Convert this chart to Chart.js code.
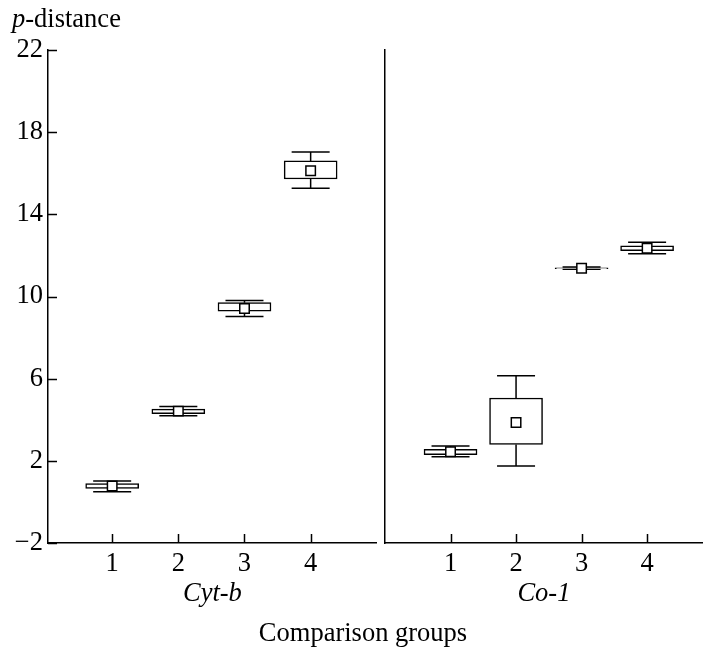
<!DOCTYPE html>
<html>
<head>
<meta charset="utf-8">
<script src="https://cdn.jsdelivr.net/npm/chart.js@4"></script>
<style>
    body { margin: 0; background: #fff; width: 703px; height: 650px; overflow: hidden; position: relative; font-family: "Liberation Serif", serif; }
    .panel { position: absolute; top: 0; height: 650px; }
    #left { left: 0; width: 385px; }
    #right { left: 375px; width: 336px; }
    .lbl { position: absolute; font-size: 26.5px; color: #000; white-space: nowrap; }
</style>
</head>
<body>
<div class="panel" id="left"><canvas id="cytbChart"></canvas></div>
<div class="panel" id="right"><canvas id="co1Chart"></canvas></div>
<div class="lbl" style="left:12px; top:3px;"><i>p</i>-distance</div>
<div class="lbl" style="left:0; width:726px; text-align:center; top:617px;">Comparison groups</div>
<script>
// comparison groups
var groups = [1, 2, 3, 4];
var yTicks = [22, 18, 14, 10, 6, 2, -2];

// Cyt-b
var cytbBoxLow = [0.66, 4.30, 9.28, 15.72];
var cytbBoxHigh = [0.89, 4.52, 9.70, 16.60];
var cytbWhiskLow = [0.50, 4.20, 9.03, 15.27];
var cytbWhiskHigh = [1.02, 4.65, 9.81, 17.03];
var cytbMean = [0.77, 4.42, 9.42, 16.12];

// Co-1
var co1BoxLow = [2.30, 2.80, 11.35, 12.23];
var co1BoxHigh = [2.56, 5.06, 11.40, 12.47];
var co1WhiskLow = [2.20, 1.75, 11.33, 12.08];
var co1WhiskHigh = [2.72, 6.14, 11.44, 12.64];
var co1Mean = [2.44, 3.87, 11.37, 12.35];

Chart.defaults.font.family = '"Liberation Serif", "Times New Roman", serif';
Chart.defaults.color = '#000';

// whiskers + inward tick marks
var boxPlugin = {
    id: 'boxExtras',
    beforeDatasetsDraw: function (chart) {
        var ctx = chart.ctx, xs = chart.scales.x, ys = chart.scales.y;
        var w = chart.options.plugins.boxExtras;
        ctx.save();
        ctx.strokeStyle = '#000';
        ctx.lineWidth = 1.5;
        for (var i = 0; i < groups.length; i++) {
            var px = xs.getPixelForValue(groups[i]);
            var lo = ys.getPixelForValue(w.whiskLow[i]);
            var hi = ys.getPixelForValue(w.whiskHigh[i]);
            var bl = ys.getPixelForValue(w.boxLow[i]);
            var bh = ys.getPixelForValue(w.boxHigh[i]);
            ctx.beginPath();
            ctx.moveTo(px, hi); ctx.lineTo(px, bh);
            ctx.moveTo(px, bl); ctx.lineTo(px, lo);
            ctx.moveTo(px - 19, hi); ctx.lineTo(px + 19, hi);
            ctx.moveTo(px - 19, lo); ctx.lineTo(px + 19, lo);
            ctx.stroke();
        }
        // x ticks pointing up into the plot
        var a = chart.chartArea;
        ctx.beginPath();
        groups.forEach(function (g) {
            var px = Math.round(xs.getPixelForValue(g)) + 0.5;
            ctx.moveTo(px, a.bottom); ctx.lineTo(px, a.bottom - 9);
        });
        if (w.yTicks) {
            yTicks.forEach(function (v) {
                var py = Math.round(ys.getPixelForValue(v)) + 0.5;
                ctx.moveTo(a.left, py); ctx.lineTo(a.left + 9, py);
            });
        }
        ctx.stroke();
        ctx.restore();
    }
};

function makeChart(id, title, boxLow, boxHigh, whiskLow, whiskHigh, mean, xMin, xMax, yWidth, showY) {
    var boxes = groups.map(function (g, i) { return { x: g, y: [boxLow[i], boxHigh[i]] }; });
    var means = groups.map(function (g, i) { return { x: g, y: mean[i] }; });
    var ctx = document.getElementById(id).getContext('2d');
    return new Chart(ctx, {
        type: 'bar',
        data: {
            datasets: [{
                type: 'scatter',
                data: means,
                pointStyle: 'rect',
                pointRadius: 6.7,
                pointBackgroundColor: '#fff',
                pointBorderColor: '#000',
                pointBorderWidth: 1.5,
                order: 0
            }, {
                type: 'bar',
                data: boxes,
                backgroundColor: '#fff',
                borderColor: '#000',
                borderWidth: 1.5,
                borderSkipped: false,
                barThickness: 53,
                order: 1
            }]
        },
        options: {
            responsive: true,
            maintainAspectRatio: false,
            animation: false,
            layout: { padding: { top: 50, left: 0, right: 0, bottom: 40 } },
            plugins: {
                legend: { display: false },
                tooltip: { enabled: false },
                boxExtras: { boxLow: boxLow, boxHigh: boxHigh, whiskLow: whiskLow, whiskHigh: whiskHigh, yTicks: showY }
            },
            scales: {
                x: {
                    type: 'linear',
                    min: xMin,
                    max: xMax,
                    offset: false,
                    afterBuildTicks: function (scale) {
                        scale.ticks = groups.map(function (g) { return { value: g }; });
                    },
                    afterFit: function (scale) {
                        scale.height = 67;
                        scale.paddingLeft = 0;
                        scale.paddingRight = 0;
                    },
                    grid: { display: false, drawTicks: false },
                    border: { color: '#000', width: 1.5 },
                    ticks: { font: { size: 26.5 }, padding: 5, maxRotation: 0 },
                    title: { display: true, text: title, font: { size: 26.5, style: 'italic' }, padding: { top: 0, bottom: 0 } }
                },
                y: {
                    min: -2,
                    max: 22,
                    afterBuildTicks: function (scale) {
                        scale.ticks = yTicks.map(function (v) { return { value: v }; });
                    },
                    afterFit: function (scale) { scale.width = yWidth; },
                    grid: { display: false, drawTicks: false },
                    border: { color: '#000', width: 1.5 },
                    ticks: {
                        display: showY,
                        font: { size: 26.5 },
                        padding: 5,
                        callback: function (v) { return String(v).replace('-', '\u2212'); }
                    }
                }
            }
        },
        plugins: [boxPlugin]
    });
}

makeChart('cytbChart', 'Cyt-b', cytbBoxLow, cytbBoxHigh, cytbWhiskLow, cytbWhiskHigh, cytbMean, 0.03, 5.0, 48, true);
makeChart('co1Chart', 'Co-1', co1BoxLow, co1BoxHigh, co1WhiskLow, co1WhiskHigh, co1Mean, 0.0, 4.85, 10, false);
</script>
</body>
</html>
